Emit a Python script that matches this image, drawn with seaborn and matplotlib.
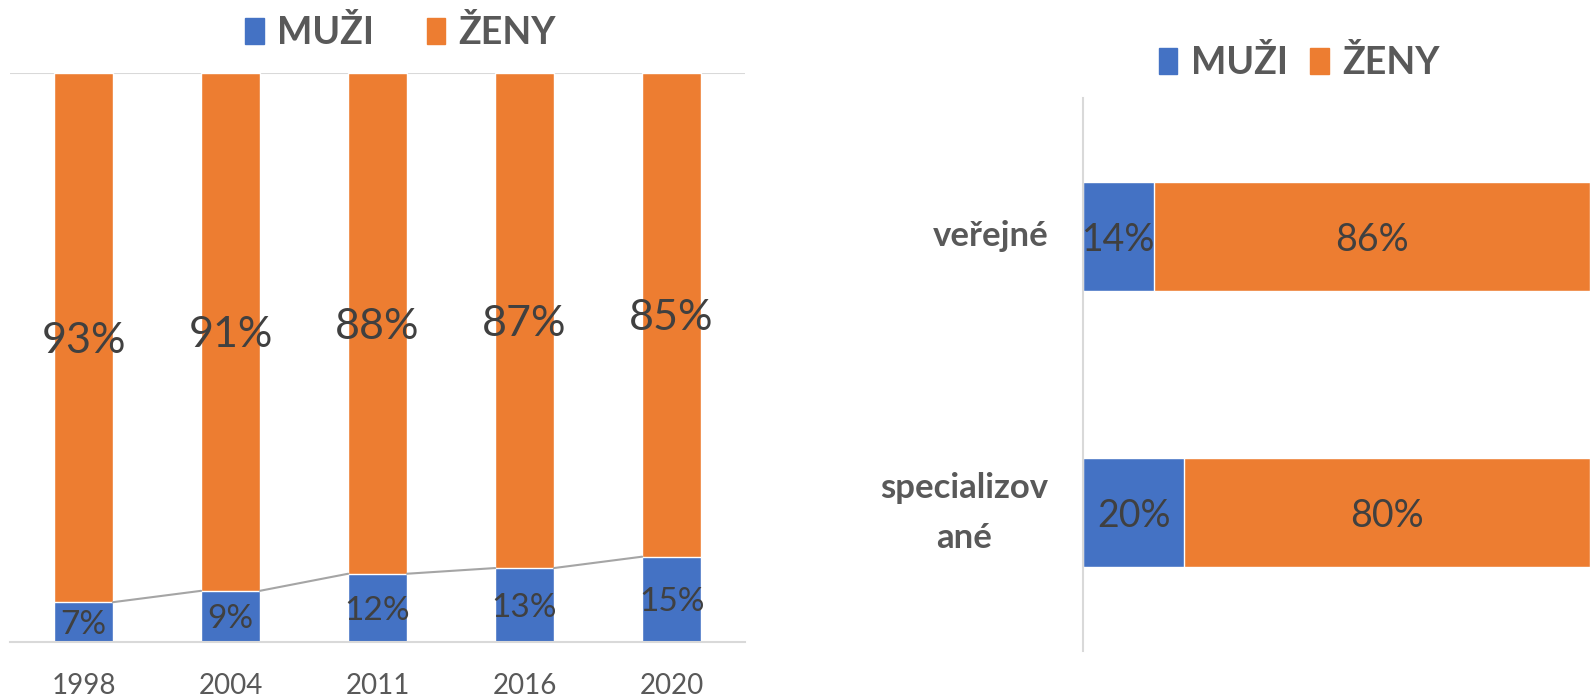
import matplotlib.pyplot as plt
import seaborn as sns
from matplotlib.patches import Patch

# data
years = ['1998', '2004', '2011', '2016', '2020']
muzi = [7, 9, 12, 13, 15]
zeny = [93, 91, 88, 87, 85]

typy = ['veřejné', 'specializov\nané']
muzi2 = [14, 20]
zeny2 = [86, 80]

blue = '#4472C4'
orange = '#ED7D31'
grid = '#D9D9D9'
lab = '#404040'
txt = '#595959'

sns.set_style('white')
plt.rcParams['font.family'] = ['Lato', 'DejaVu Sans']

fig = plt.figure(figsize=(15.9, 6.98), dpi=100)

# left: stacked 100% columns by year
ax = fig.add_axes([0.0063, 0.0802, 0.4623, 0.8152])
total = [m + z for m, z in zip(muzi, zeny)]
sns.barplot(x=years, y=total, color=orange, width=0.4, saturation=1, ax=ax)
sns.barplot(x=years, y=muzi, color=blue, width=0.4, saturation=1, ax=ax)

# series lines between blue tops
for i in range(len(years) - 1):
    ax.plot([i + 0.2, i + 1 - 0.2], [muzi[i], muzi[i + 1]], color='#A5A5A5', lw=1.5, zorder=3)

for i, (m, z) in enumerate(zip(muzi, zeny)):
    ax.text(i, m / 2, f'{m}%', ha='center', va='center_baseline', fontsize=24, color=lab)
    ax.text(i, m + z / 2, f'{z}%', ha='center', va='center_baseline', fontsize=31, color=lab)

ax.set_ylim(0, 100)
ax.set_xlim(-0.5, 4.5)
ax.axhline(100, color=grid, lw=1.5, zorder=0)
ax.set_yticks([])
ax.set_xlabel('')
ax.set_ylabel('')
ax.tick_params(axis='x', length=0, pad=22, labelsize=20, labelcolor=txt)
sns.despine(ax=ax, left=True)
ax.spines['bottom'].set_color(grid)
ax.spines['bottom'].set_linewidth(1.5)

fig.legend(handles=[Patch(color=blue, label='MUŽI'), Patch(color=orange, label='ŽENY')],
           loc='center', bbox_to_anchor=(0.252, 0.953), ncol=2, frameon=False,
           handlelength=0.5, handleheight=0.7, handletextpad=0.35, columnspacing=1.4,
           prop={'weight': 'bold', 'size': 27}, labelcolor=txt)

# right: stacked 100% horizontal bars
ax2 = fig.add_axes([0.6811, 0.0673, 0.3189, 0.7923])
total2 = [m + z for m, z in zip(muzi2, zeny2)]
sns.barplot(y=typy, x=total2, color=orange, width=0.395, saturation=1, orient='h', ax=ax2)
sns.barplot(y=typy, x=muzi2, color=blue, width=0.395, saturation=1, orient='h', ax=ax2)

for i, (m, z) in enumerate(zip(muzi2, zeny2)):
    ax2.text(m / 2, i, f'{m}%', ha='center', va='center_baseline', fontsize=27, color=lab)
    ax2.text(m + z / 2, i, f'{z}%', ha='center', va='center_baseline', fontsize=27, color=lab)

ax2.set_xlim(0, 100)
ax2.set_xticks([])
ax2.set_xlabel('')
ax2.set_ylabel('')
ax2.tick_params(axis='y', length=0, labelleft=False)
# category labels: right aligned block, lines centred (as in Excel)
for i, name in enumerate(typy):
    ax2.annotate(name, xy=(0, i), xycoords=ax2.get_yaxis_transform(),
                 xytext=(-25, 0), textcoords='offset points',
                 ha='right', va='center', multialignment='center', linespacing=1.7,
                 fontsize=25, fontweight='bold', color=txt)
sns.despine(ax=ax2, bottom=True)
ax2.spines['left'].set_color(grid)
ax2.spines['left'].set_linewidth(1.5)

fig.legend(handles=[Patch(color=blue, label='MUŽI'), Patch(color=orange, label='ŽENY')],
           loc='center', bbox_to_anchor=(0.817, 0.91), ncol=2, frameon=False,
           handlelength=0.5, handleheight=0.7, handletextpad=0.35, columnspacing=0.6,
           prop={'weight': 'bold', 'size': 27}, labelcolor=txt)

fig.savefig('out.png', dpi=100)
